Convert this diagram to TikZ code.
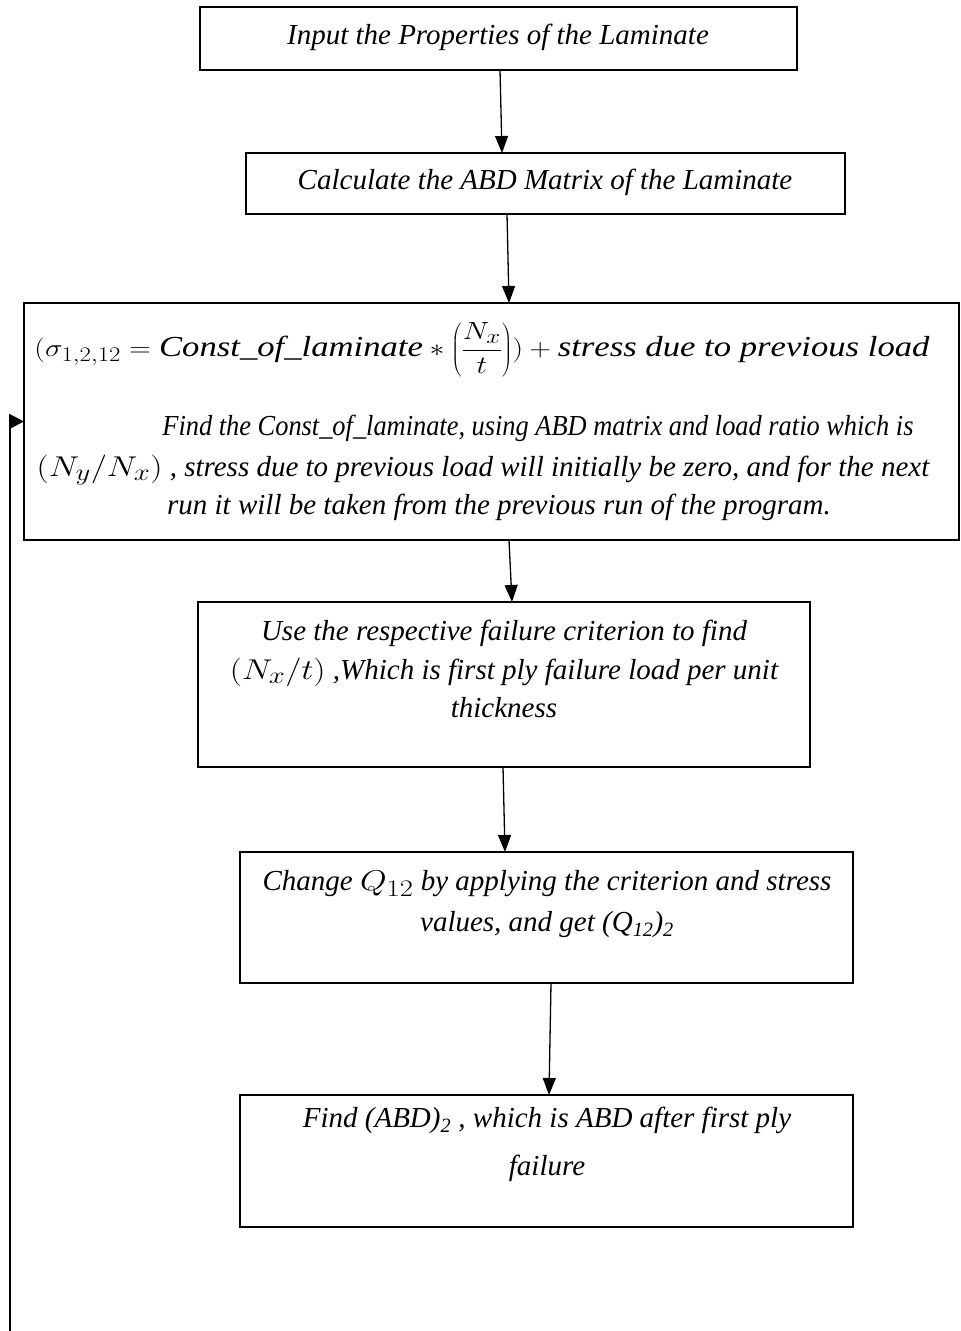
\documentclass[tikz,border=0pt]{standalone}
\usepackage{fontspec}
\usepackage{graphicx}
\setmainfont{Liberation Serif}
\usetikzlibrary{arrows.meta,calc}
\newcommand\mymath[1]{\scalebox{1.38}[1.15]{$#1$}}
\begin{document}
\begin{tikzpicture}[x=1pt,y=-1pt,
  box/.style={draw, line width=2.4pt, inner sep=0pt, outer sep=0pt},
  txt/.style={font=\fontsize{29}{38.5}\selectfont\itshape, align=center, inner sep=0pt},
  flow/.style={line width=1.3pt, -{Triangle[length=17pt,width=13pt]}},
  loopline/.style={line width=2.4pt, -{Triangle[length=15pt,width=15pt]}}]
\useasboundingbox (0,0) rectangle (961,1331);
% boxes
\node[box, minimum width=597pt, minimum height=63pt] (b1) at (498.5,38.5) {};
\node[box, minimum width=599pt, minimum height=61pt] (b2) at (545.5,183.5) {};
\node[box, minimum width=935pt, minimum height=237pt] (b3) at (491.5,421.5) {};
\node[box, minimum width=612pt, minimum height=165pt] (b4) at (504,684.5) {};
\node[box, minimum width=613pt, minimum height=131pt] (b5) at (546.5,917.5) {};
\node[box, minimum width=613pt, minimum height=132pt] (b6) at (546.5,1161) {};
% texts
\node[txt] (t1) at (498,37) {Input the Properties of the Laminate};
\node[txt] (t2) at (545,182) {Calculate the ABD Matrix of the Laminate};
\node[txt, font=\fontsize{29}{38.5}\selectfont] (t3a) at (482,350)
  {\resizebox{895pt}{\height}{$(\sigma_{1,2,12} = \mathit{Const\_of\_laminate} * \left(\displaystyle\frac{N_x}{t}\right)) + \mathit{stress\ due\ to\ previous\ load}$}};
\node[txt] (t3b) at (538,428) {\resizebox{751pt}{\height}{Find the Const\_of\_laminate, using ABD matrix and load ratio which is}};
\node[txt] (t3c) at (483,470) {\mymath{(N_y/N_x)} , stress due to previous load will initially be zero, and for the next};
\node[txt] (t3d) at (499,507) {run it will be taken from the previous run of the program.};
\node[txt] (t4) at (504,669) {Use the respective failure criterion to find\\
  \mymath{(N_x/t)} ,Which is first ply failure load per unit\\ thickness};
\node[txt] (t5) at (547,904.5) {Change \mymath{Q_{12}} by applying the criterion and stress\\[2.5pt]
  values, and get (Q\textsubscript{12})\textsubscript{2}};
\node[txt] (t6) at (547,1144) {Find (ABD)\textsubscript{2} , which is ABD after first ply\\[9.5pt] failure};
% connectors
\draw[flow] ([xshift=1.5pt]b1.south) -- ([xshift=-43.5pt]b2.north);
\draw[flow] ([xshift=-38.5pt]b2.south) -- ([xshift=17.5pt]b3.north);
\draw[flow] ([xshift=17.5pt]b3.south) -- ([xshift=8pt]b4.north);
\draw[flow] ([xshift=-1pt]b4.south) -- ([xshift=-41.5pt]b5.north);
\draw[flow] ([xshift=4.5pt]b5.south) -- ([xshift=2.5pt]b6.north);
\coordinate (lp) at (10,1331);
\draw[loopline] (lp) |- (b3.west);
\end{tikzpicture}
\end{document}
